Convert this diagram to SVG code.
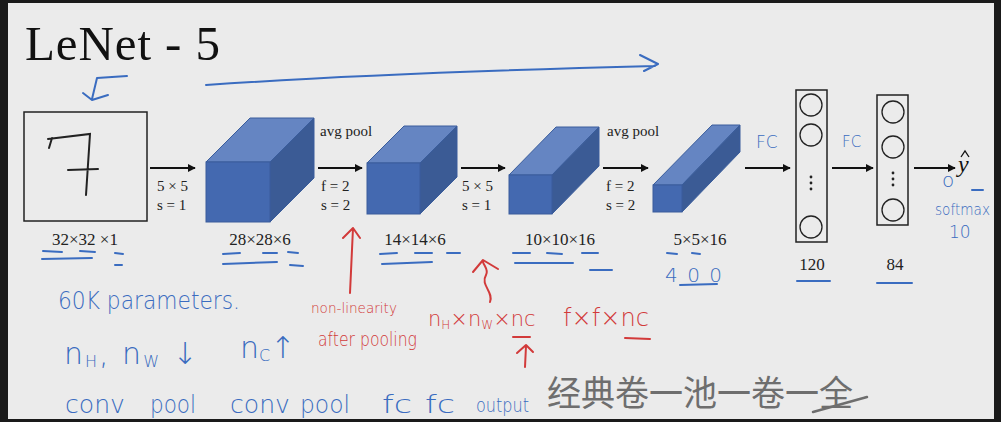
<svg xmlns="http://www.w3.org/2000/svg" width="1001" height="422" viewBox="0 0 1001 422">
<defs>
<marker id="ah" viewBox="0 0 10 10" refX="9" refY="5" markerWidth="8" markerHeight="8" markerUnits="userSpaceOnUse" orient="auto"><path d="M0,0 L10,5 L0,10 Z" fill="#111"/></marker>
<style>
.lbl{font-family:"Liberation Serif",serif;font-size:17px;fill:#222}
.sm{font-family:"Liberation Serif",serif;font-size:15px;fill:#222}
.ar{stroke:#111;stroke-width:2;fill:none;marker-end:url(#ah)}
.front{fill:#4469b0;stroke:#3a5d9c;stroke-width:1}
.top{fill:#6585c2;stroke:#3a5d9c;stroke-width:1}
.side{fill:#3b5b95;stroke:#3a5d9c;stroke-width:1}
.box{fill:none;stroke:#222;stroke-width:1.5}
.neu{fill:none;stroke:#222;stroke-width:1.3}
.bl{fill:none;stroke:#3a6cc0;stroke-width:2;stroke-linecap:round;stroke-linejoin:round}
.rd{fill:none;stroke:#d23a3a;stroke-width:2;stroke-linecap:round;stroke-linejoin:round}
.bt{font-family:"DejaVu Sans",sans-serif;fill:#3a6cc0;font-weight:300}
.rt{font-family:"DejaVu Sans",sans-serif;fill:#d23a3a;font-weight:300}
</style>
</defs>
<rect x="0" y="0" width="1001" height="422" fill="#ebebeb"/>
<rect x="0" y="0" width="1001" height="3" fill="#1a1a1a"/>
<rect x="0" y="0" width="8" height="422" fill="#1a1a1a"/>
<rect x="994" y="0" width="7" height="422" fill="#1a1a1a"/>
<rect x="0" y="419" width="1001" height="3" fill="#1a1a1a"/>

<text x="25" y="60" font-family="Liberation Serif,serif" font-size="49" fill="#111" textLength="195" lengthAdjust="spacing">LeNet - 5</text>

<g id="input">
<rect x="24" y="112" width="123" height="109" class="box"/>
<path d="M49,148 L52,138 M48,139 L90,134 L86,195 M68,170 L98,169" fill="none" stroke="#222" stroke-width="2" stroke-linecap="round"/>
<text x="85" y="245" class="lbl" text-anchor="middle">32×32 ×1</text>
</g>

<g id="conv1">
<polygon points="206,162 250,118 314,118 270,162" class="top"/>
<polygon points="270,162 314,118 314,178 270,222" class="side"/>
<rect x="206" y="162" width="64" height="60" class="front"/>
<text x="260" y="245" class="lbl" text-anchor="middle">28×28×6</text>
</g>

<g id="pool1">
<polygon points="367,163 404,126 457,126 420,163" class="top"/>
<polygon points="420,163 457,126 457,177 420,214" class="side"/>
<rect x="367" y="163" width="53" height="51" class="front"/>
<text x="415" y="245" class="lbl" text-anchor="middle">14×14×6</text>
</g>

<g id="conv2">
<polygon points="509,175 556,127 599,127 552,175" class="top"/>
<polygon points="552,175 599,127 599,166 552,214" class="side"/>
<rect x="509" y="175" width="43" height="39" class="front"/>
<text x="560" y="245" class="lbl" text-anchor="middle">10×10×16</text>
</g>

<g id="pool2">
<polygon points="653,185 712,125 740,125 682,185" class="top"/>
<polygon points="682,185 740,125 740,152 682,212" class="side"/>
<rect x="653" y="185" width="29" height="27" class="front"/>
<text x="700" y="245" class="lbl" text-anchor="middle">5×5×16</text>
</g>

<g id="fc1">
<rect x="796" y="90" width="31" height="152" class="box"/>
<circle cx="811" cy="105" r="11" class="neu"/>
<circle cx="811" cy="135" r="11" class="neu"/>
<circle cx="811" cy="177" r="1.4" fill="#222"/><circle cx="811" cy="183" r="1.4" fill="#222"/><circle cx="811" cy="189" r="1.4" fill="#222"/>
<circle cx="811" cy="227" r="11" class="neu"/>
<text x="812" y="270" class="lbl" text-anchor="middle">120</text>
</g>

<g id="fc2">
<rect x="877" y="95" width="31" height="130" class="box"/>
<circle cx="893" cy="112" r="11" class="neu"/>
<circle cx="893" cy="147" r="11" class="neu"/>
<circle cx="893" cy="173" r="1.4" fill="#222"/><circle cx="893" cy="179" r="1.4" fill="#222"/><circle cx="893" cy="185" r="1.4" fill="#222"/>
<circle cx="893" cy="210" r="11" class="neu"/>
<text x="895" y="270" class="lbl" text-anchor="middle">84</text>
</g>

<g id="output">
<text x="958" y="172" font-family="Liberation Serif,serif" font-style="italic" font-size="24" fill="#111">y</text>
<path d="M961,157 L965,151 L969,157" fill="none" stroke="#111" stroke-width="1.3"/>
</g>

<g id="connectors">
<line x1="150" y1="168" x2="195" y2="168" class="ar"/>
<line x1="318" y1="168" x2="362" y2="168" class="ar"/>
<line x1="461" y1="168" x2="505" y2="168" class="ar"/>
<line x1="603" y1="168" x2="648" y2="168" class="ar"/>
<line x1="745" y1="168" x2="790" y2="168" class="ar"/>
<line x1="832" y1="168" x2="873" y2="168" class="ar"/>
<line x1="914" y1="168" x2="955" y2="168" class="ar"/>
<text x="157" y="191" class="sm">5 × 5</text>
<text x="157" y="210" class="sm">s = 1</text>
<text x="320" y="136" class="sm">avg pool</text>
<text x="321" y="191" class="sm">f = 2</text>
<text x="321" y="210" class="sm">s = 2</text>
<text x="462" y="191" class="sm">5 × 5</text>
<text x="462" y="210" class="sm">s = 1</text>
<text x="607" y="136" class="sm">avg pool</text>
<text x="606" y="191" class="sm">f = 2</text>
<text x="606" y="210" class="sm">s = 2</text>
</g>

<g id="blue-notes">
<path d="M206,85 C350,75 500,70 655,66 M640,55 L658,64 L644,71" class="bl"/>
<path d="M97,78 L127,76 M97,78 L92,99 M83,93 L92,100 L108,95" class="bl"/>
<path d="M43,251 L62,252 M80,251 L95,252 M115,253 L123,254 M42,259 L92,258 M115,265 L122,265" class="bl"/>
<path d="M223,254 L240,253 M263,253 L277,253 M288,252 L298,253 M223,264 L277,262 M290,265 L303,266" class="bl"/>
<path d="M380,254 L397,253 M415,253 L432,253 M447,253 L460,253 M382,264 L432,262" class="bl"/>
<path d="M513,253 L530,253 M547,253 L562,254 M582,253 L598,253 M515,263 L573,263 M590,270 L612,270" class="bl"/>
<path d="M667,253 L677,254 M692,253 L700,254 M680,285 L717,284 M797,281 L830,281 M877,283 L912,283 M972,190 L983,190" class="bl"/>
<text x="665" y="282" class="bt" font-size="20" textLength="57" lengthAdjust="spacing">400</text>
<text x="756" y="148" class="bt" font-size="17">FC</text>
<text x="842" y="147" class="bt" font-size="15">FC</text>
<text x="942" y="187" class="bt" font-size="20">o</text>
<text x="935" y="215" class="bt" font-size="15" textLength="55" lengthAdjust="spacingAndGlyphs">softmax</text>
<text x="949" y="238" class="bt" font-size="17">10</text>
<text x="58" y="309" class="bt" font-size="24" textLength="182" lengthAdjust="spacingAndGlyphs">60K  parameters.</text>
<text x="64" y="364" class="bt" font-size="30" letter-spacing="2">n<tspan font-size="16" dy="3">H</tspan><tspan dy="-3">, n</tspan><tspan font-size="16" dy="3">W</tspan><tspan dy="-3"> ↓</tspan></text>
<text x="240" y="358" class="bt" font-size="30">n<tspan font-size="16" dy="3">C</tspan><tspan dy="-3">↑</tspan></text>
<text x="65" y="413" class="bt" font-size="24" textLength="60" lengthAdjust="spacingAndGlyphs">conv</text>
<text x="150" y="413" class="bt" font-size="24" textLength="46" lengthAdjust="spacingAndGlyphs">pool</text>
<text x="230" y="413" class="bt" font-size="24" textLength="60" lengthAdjust="spacingAndGlyphs">conv</text>
<text x="300" y="413" class="bt" font-size="24" textLength="50" lengthAdjust="spacingAndGlyphs">pool</text>
<text x="382" y="413" class="bt" font-size="24" textLength="30" lengthAdjust="spacingAndGlyphs">fc</text>
<text x="425" y="413" class="bt" font-size="24" textLength="30" lengthAdjust="spacingAndGlyphs">fc</text>
<text x="476" y="412" class="bt" font-size="20" textLength="53" lengthAdjust="spacingAndGlyphs">output</text>
</g>

<g id="red-notes">
<path d="M350,293 L353,228 M343,238 L353,228 L360,238" class="rd"/>
<path d="M490,302 C494,292 480,285 486,275 C489,270 484,266 483,262 M473,272 L483,260 L498,269" class="rd"/>
<text x="311" y="313" class="rt" font-size="14" textLength="86" lengthAdjust="spacingAndGlyphs">non-linearity</text>
<text x="318" y="346" class="rt" font-size="19" textLength="99" lengthAdjust="spacingAndGlyphs">after pooling</text>
<text x="428" y="326" class="rt" font-size="21">n<tspan font-size="12" dy="3">H</tspan><tspan dy="-3">×n</tspan><tspan font-size="12" dy="3">W</tspan><tspan dy="-3">×nc</tspan></text>
<text x="563" y="326" class="rt" font-size="24" textLength="86" lengthAdjust="spacingAndGlyphs">f×f×nc</text>
<path d="M513,337 L530,337 M625,338 L650,339 M525,367 L526,346 M517,353 L526,345 L533,352" class="rd"/>
</g>

<g id="cn-note">
<text x="547" y="406" font-family="Noto Sans CJK SC,sans-serif" font-size="35" fill="#6e6e6e" textLength="306" lengthAdjust="spacingAndGlyphs">经典卷一池一卷一全</text>
<path d="M813,412 L867,397" fill="none" stroke="#6e6e6e" stroke-width="2.5" stroke-linecap="round"/>
</g>
</svg>
